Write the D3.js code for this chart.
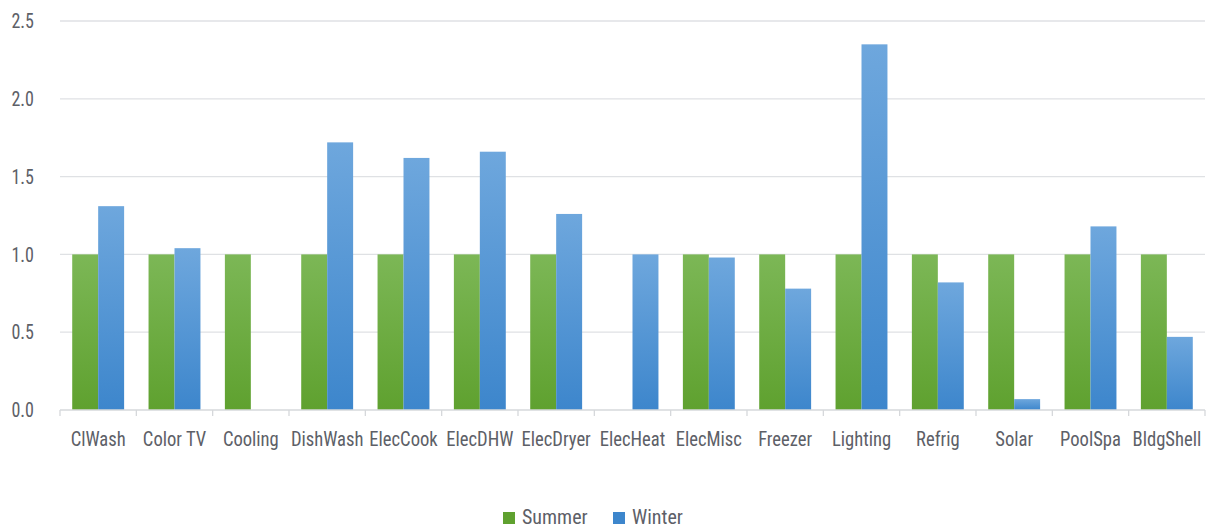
<!DOCTYPE html>
<html>
<head>
<meta charset="utf-8">
<script src="https://cdn.jsdelivr.net/npm/d3@7"></script>
<style>
  html, body { margin: 0; padding: 0; background: #fff; }
  svg { display: block; }
  text { font-family: "Roboto Condensed", Roboto, sans-serif; fill: #5d6067; }
</style>
</head>
<body>
<svg id="chart" width="1206" height="529"></svg>
<script>
// Load profile ratios by end use, summer vs winter
const categories = ["ClWash", "Color TV", "Cooling", "DishWash", "ElecCook", "ElecDHW", "ElecDryer",
  "ElecHeat", "ElecMisc", "Freezer", "Lighting", "Refrig", "Solar", "PoolSpa", "BldgShell"];
const seriesNames = ["Summer", "Winter"];
const summer = [1.0, 1.0, 1.0, 1.0, 1.0, 1.0, 1.0, 0.0, 1.0, 1.0, 1.0, 1.0, 1.0, 1.0, 1.0];
const winter = [1.31, 1.04, 0.0, 1.72, 1.62, 1.66, 1.26, 1.0, 0.98, 0.78, 2.35, 0.82, 0.07, 1.18, 0.47];
const yTicks = [0, 0.5, 1.0, 1.5, 2.0, 2.5];

const colors = {
  Summer: ["#7cb756", "#5fa12f"],
  Winter: ["#6ea7dd", "#3d86cc"]
};

const svg = d3.select("#chart");
const margin = { left: 60, right: 1, top: 21, bottom: 119 };
const W = 1206, H = 529;
const plotW = W - margin.left - margin.right;
const plotH = H - margin.top - margin.bottom;

// place a text node at (x, y) with horizontally narrowed glyphs
function placeText(sel, fx, fy, k) {
  sel.attr("transform", (d, i) => `translate(${fx(d, i)},${fy(d, i)}) scale(${k},1)`);
}

const defs = svg.append("defs");
seriesNames.forEach(name => {
  const g = defs.append("linearGradient")
    .attr("id", "grad-" + name)
    .attr("x1", 0).attr("y1", 0).attr("x2", 0).attr("y2", 1);
  g.append("stop").attr("offset", "0%").attr("stop-color", colors[name][0]);
  g.append("stop").attr("offset", "100%").attr("stop-color", colors[name][1]);
});

const x = d3.scaleBand().domain(categories).range([0, plotW]).paddingInner(0).paddingOuter(0);
const xSub = d3.scaleBand().domain(seriesNames).range([x.bandwidth() * 0.16, x.bandwidth() * 0.84]);
const y = d3.scaleLinear().domain([0, 2.5]).range([plotH, 0]);

const root = svg.append("g").attr("transform", `translate(${margin.left},${margin.top})`);

// gridlines
root.append("g")
  .selectAll("line")
  .data(yTicks.filter(t => t > 0))
  .join("line")
  .attr("x1", 0).attr("x2", plotW)
  .attr("y1", d => y(d)).attr("y2", d => y(d))
  .attr("stroke", "#dfe1e4").attr("stroke-width", 1.3);

// y-axis labels
root.append("g")
  .selectAll("text")
  .data(yTicks)
  .join("text")
  .attr("dy", "0.36em")
  .attr("text-anchor", "end")
  .attr("font-size", 20)
  .text(d => d3.format(".1f")(d))
  .call(placeText, () => -26, d => y(d), 0.9);

// bars
const data = categories.map((c, i) => ({ cat: c, values: [
  { name: "Summer", v: summer[i] }, { name: "Winter", v: winter[i] }] }));

const groups = root.append("g").selectAll("g")
  .data(data).join("g")
  .attr("transform", d => `translate(${x(d.cat)},0)`);

groups.selectAll("rect")
  .data(d => d.values.filter(v => v.v > 0))
  .join("rect")
  .attr("x", d => xSub(d.name))
  .attr("width", xSub.bandwidth())
  .attr("y", d => y(d.v))
  .attr("height", d => y(0) - y(d.v))
  .attr("fill", d => `url(#grad-${d.name})`);

// x axis
const xAxis = root.append("g").attr("transform", `translate(0,${plotH})`);
xAxis.append("line").attr("x1", 0).attr("x2", plotW).attr("stroke", "#d6d8db").attr("stroke-width", 1.3);
xAxis.selectAll("line.tick")
  .data(categories.map(c => x(c)).concat([plotW]))
  .join("line").attr("class", "tick")
  .attr("x1", d => d).attr("x2", d => d)
  .attr("y1", 0).attr("y2", 6)
  .attr("stroke", "#d6d8db").attr("stroke-width", 1.3);
xAxis.selectAll("text")
  .data(categories)
  .join("text")
  .attr("text-anchor", "middle")
  .attr("font-size", 20)
  .text(d => d)
  .call(placeText, d => x(d) + x.bandwidth() / 2, () => 36, 0.93);

// legend
const legend = svg.append("g").attr("transform", "translate(503,0)");
const items = [{ name: "Summer", dx: 0 }, { name: "Winter", dx: 110 }];
const li = legend.selectAll("g").data(items).join("g")
  .attr("transform", d => `translate(${d.dx},0)`);
li.append("rect").attr("x", 0).attr("y", 512).attr("width", 12).attr("height", 12)
  .attr("fill", d => colors[d.name][1]);
li.append("text").attr("font-size", 20).text(d => d.name)
  .call(placeText, () => 19, () => 524, 1);
</script>
</body>
</html>
